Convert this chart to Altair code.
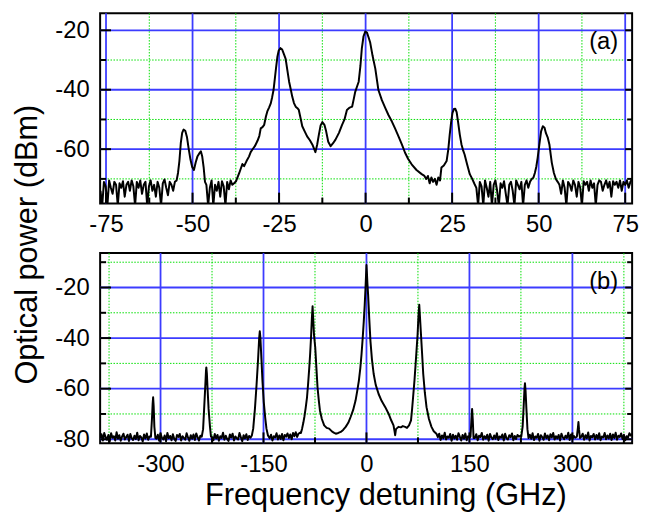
import altair as alt
import pandas as pd

FONT = "Liberation Sans"

# ---------------- Panel (a) data (GHz, dBm) ----------------
# noise-floor segments: (start frequency, step, values)
a_noise1_start, a_noise1_step = -76.6, 0.5
a_noise1 = [-74, -79, -71, -72.5, -79, -70.5, -73, -75, -71, -72, -79, -71.5, -73, -70.8, -76,
            -72, -71, -74, -70.5, -72.5, -79, -71, -73, -70.5, -75, -72, -71, -79, -72.5, -70.5,
            -74, -72, -76, -71, -73, -79, -71.5, -70.2, -73, -75.5, -71, -72, -74, -71, -70.5]
a_noise2_start, a_noise2_step = -46.0, 0.5
a_noise2 = [-72, -79, -73, -70.5, -79, -72, -74, -71, -76, -70.8, -72.5, -79, -71, -73.5, -70.5, -72, -71.5]
a_noise3_start, a_noise3_step = 17.5, 0.5
a_noise3 = [-70, -69, -71.5, -69.5, -71, -70, -72, -69.5, -70.5]
a_noise4_start, a_noise4_step = 32.0, 0.5
a_noise4 = [-73, -79, -71, -72.5, -79, -70.5, -73, -76, -71, -79, -72, -70.5, -74, -79, -71.5, -73,
            -70.8, -75, -79, -72, -71, -74, -79, -70.5, -72, -73.5, -71, -79, -72, -70.5, -73, -71, -70, -69.5]
a_noise5_start, a_noise5_step = 55.5, 0.5
a_noise5 = [-71, -72, -75, -70.5, -73, -79, -71, -72, -74, -70.5, -72, -76, -71, -73, -79, -70.8,
            -72, -71, -74, -70.5, -73, -71.5, -79, -72, -70.5, -71, -74, -72, -70.5, -73, -71, -76,
            -70.8, -72, -71, -73, -70.5, -74, -71, -72, -70.5, -73, -71, -70]

# spectral lines (frequency, power)
a_peak_m52_f = [-54.2, -53.8, -53.4, -53.0, -52.6, -52.1, -51.6, -51.1, -50.6, -50.1, -49.6, -49.1,
                -48.6, -48.1, -47.6, -47.2, -46.8, -46.4]
a_peak_m52_p = [-68, -64, -58, -54.5, -53.4, -53.8, -56, -60, -63.5, -66, -67, -64.5,
                -62.5, -61.5, -60.7, -62.5, -66, -71]
a_center_f = [-37.4, -36.5, -35.6, -35.1, -34.4, -33.7, -33.2, -32.7, -32.0, -31.2, -30.7, -30.3,
              -29.8, -29.3, -28.8, -28.4, -27.9, -27.4, -27.0, -26.6, -26.2, -25.9, -25.5, -25.1,
              -24.6, -24.1, -23.6, -23.1, -22.6, -22.1, -21.6, -21.2, -20.7, -20.2, -19.7, -19.3,
              -18.8, -18.3, -17.6, -16.9, -16.1, -15.4, -14.9, -14.5, -14.0, -13.5, -13.0, -12.5,
              -11.9, -11.4, -10.8, -10.1, -9.4, -8.7, -7.7, -6.8, -6.1, -5.4, -4.6, -3.9, -3.4,
              -3.0, -2.5, -2.0, -1.5, -1.1, -0.6, -0.1, 0.4, 0.9, 1.3, 2.0, 2.8, 3.7, 4.7, 5.7,
              6.6, 7.6, 8.5, 9.5, 10.5, 11.4, 12.3, 13.3, 14.7, 16.2, 17.0]
a_center_p = [-70.7, -68, -65, -65.7, -64, -62.5, -61, -60.1, -59, -57.1, -55.5, -53,
              -52.6, -51.8, -49, -47.3, -46, -44.6, -42.5, -40.1, -36, -32.9, -29, -26.8,
              -26, -26.5, -28, -29.6, -33.5, -37.3, -40, -42.3, -44.5, -45.7, -46.2, -46.8,
              -49.5, -52.3, -54, -55.7, -57, -58.4, -59.8, -61, -58.5, -55.1, -52, -50.9,
              -51.8, -54, -57.5, -59, -58, -56.8, -54.5, -51.8, -50, -46.8, -46, -45.7, -43,
              -40.7, -39, -37.3, -32, -26.2, -22, -20.4, -20.8, -22.5, -24, -28.5, -32.9, -40.1, -43.5, -46.2,
              -48.5, -50.7, -53, -55.7, -58.5, -61.2, -63.3, -65.1, -67, -68.4, -69]
a_peak_26_f = [21.9, 22.6, 23.4, 23.9, 24.3, 24.7, 25.1, 25.5, 25.9, 26.3, 26.7, 27.2, 27.7, 28.2,
               28.6, 29.3, 30.1, 30.8, 31.5]
a_peak_26_p = [-66.2, -65.5, -64, -60, -55.1, -51, -47.8, -46.5, -46.4, -47.5, -50.7, -55, -58.4, -60.5,
               -61.8, -65, -68.4, -70, -71.8]
a_peak_51_f = [48.9, 49.3, 49.7, 50.2, 50.7, 51.2, 51.7, 52.1, 52.6, 53.1, 53.5, 53.8, 54.4, 55.0]
a_peak_51_p = [-68, -66, -63, -58.4, -54, -52.3, -52.8, -54.6, -56, -58.4, -62, -64.6, -68, -70.1]

# ---------------- Panel (b) data (GHz, dBm) ----------------
b_noise_step = 2.0
b_noise1_start = -388
b_noise1 = [-79.5, -78, -80.5, -77.5, -79.2, -80.2, -78.3, -80.8, -77.6, -79.4, -78.8, -80.5, -77.2,
            -79.8, -78.4, -80.6, -78.9, -77.8, -80.1, -79.1, -78.2, -80.7, -77.9, -79.6, -80.3, -78.6,
            -79.9, -77.4, -80.4, -78.7, -79.3, -80.9, -78.1, -79.7, -77.7, -80.2, -78.9]
b_noise2_start = -306
b_noise2 = [-79.8, -78.2, -80.6, -77.8, -79.4, -80.1, -78.5, -80.8, -77.5, -79.6, -78.7, -80.4, -78.0,
            -79.9, -80.7, -78.3, -79.1, -77.9, -80.5, -78.8, -79.5, -80.2, -77.6, -79.3, -80.6, -78.4,
            -79.8, -78.1, -80.3, -77.7, -79.2, -80.5, -78.6]
b_noise3_start = -225
b_noise3 = [-79.1, -80.4, -77.9, -79.7, -78.3, -80.6, -78.8, -79.5, -77.4, -80.2, -78.6, -79.9, -80.7,
            -78.1, -79.3, -77.8, -80.5, -78.9, -79.6, -80.1, -77.5, -79.2, -80.8, -78.4, -79.7, -78.0,
            -80.3, -78.7, -79.4]
b_noise4_start = -141
b_noise4 = [-79.6, -78.2, -80.5, -78.8, -79.3, -77.6, -80.1, -78.5, -79.9, -77.9, -80.4, -78.3, -79.0,
            -77.7, -79.5, -78.1, -80.0, -77.5, -78.8, -77.2, -79.1, -77.8, -77.4]
b_noise5_start = 104
b_noise5 = [-79.2, -77.8, -80.3, -78.5, -79.6, -77.4, -80.1, -78.9, -79.4, -77.9, -80.6, -78.2, -79.7,
            -78.6, -80.2, -77.6, -79.0, -80.5, -78.3, -79.8, -77.7, -80.4, -78.8, -79.3]
b_noise6_start = 158
b_noise6 = [-79.5, -78.0, -80.4, -78.6, -79.1, -77.5, -80.2, -78.8, -79.7, -78.2, -80.6, -77.9, -79.3,
            -80.0, -78.5, -79.8, -77.6, -80.3, -78.9, -79.4, -78.1, -80.5, -77.8, -79.6, -80.1, -78.4,
            -79.2, -77.7, -80.4, -78.7, -79.9, -78.3, -79.0, -78.6]
b_noise7_start = 238
b_noise7 = [-78.2, -79.8, -77.6, -80.3, -78.9, -79.4, -77.9, -80.6, -78.4, -79.1, -80.2, -77.7, -79.6,
            -78.5, -80.4, -78.0, -79.3, -77.5, -80.1, -78.8, -79.7, -78.3, -80.5, -77.8, -79.2, -80.0,
            -78.6, -79.5, -77.4, -80.3, -78.1, -79.9, -78.7, -79.4]
b_noise8_start = 313
b_noise8 = [-79.0, -77.8, -80.2, -78.4, -79.6, -77.3, -80.5, -78.7, -79.2, -77.9, -80.1, -78.3, -79.8,
            -77.6, -80.4, -78.9, -79.3, -77.5, -80.0, -78.5, -79.7, -77.8, -80.3, -78.1, -79.5, -77.4,
            -80.2, -78.6, -79.1, -77.7, -79.9, -78.2, -80.4, -78.8, -79.4, -77.6, -78.5, -77.9]

b_peak_m310_f = [-314, -312.5, -311.5, -310.8, -310, -309, -307.5]
b_peak_m310_p = [-79, -72, -66, -63.4, -67, -75, -79.5]
b_peak_m233_f = [-240, -238, -236.5, -235, -233.8, -233.3, -232.5, -231.5, -230, -228, -226.5]
b_peak_m233_p = [-79, -76, -68, -60, -53, -51.6, -54, -60, -68, -75, -79]
b_peak_m155_f = [-167, -165, -162.5, -160.2, -157.9, -156.3, -155.4, -154.5, -153, -151.5, -149.6,
                 -147.5, -145.7, -143.5]
b_peak_m155_p = [-78.5, -75.8, -68, -58.8, -48.4, -40, -37.3, -40, -48.4, -57, -65.3, -71.5, -75.8, -78.5]
b_center_f = [-95.5, -93.8, -92, -90.5, -88.5, -86.6, -85, -83.3, -82, -80.8, -79.5, -78.5, -77.5, -76.5,
              -74.6, -73, -71.3, -69.5, -67.8, -65, -61.6, -58, -54.4, -50, -47, -44.7, -41, -37.5,
              -34, -30.3, -26.5, -23.1, -19.5, -15.9, -13.5, -11.1, -9, -7.2, -5.5, -3.9, -2.6, -1.4,
              -0.6, 0, 0.6, 1.4, 2.4, 4, 5.8, 8, 10.5, 13.5, 17.7, 22, 27.4, 32.2, 36, 39.4, 41,
              41.8, 43, 46.6, 50, 53, 56.3, 59, 62, 64.9, 66.5, 68.3, 70, 71.6, 73, 74.5, 75.7, 76.9,
              77.8, 79.4, 81, 82.7, 85, 87.5, 91, 94.7, 98, 101.9]
b_center_p = [-77.5, -75.8, -73.5, -71.2, -67.5, -63.4, -58, -51.6, -46, -39.9, -32, -27.4, -33, -38.5,
              -43.8, -51.5, -59.5, -64.5, -68.6, -72, -74.5, -75.5, -75.8, -77, -77.5, -77.8, -77.5, -77.1,
              -76.3, -75.1, -73.5, -71.2, -68.5, -64.7, -61, -56.9, -52, -46.4, -40, -33.3, -27, -20.2,
              -15, -11.1, -14, -18.5, -22.9, -32, -41.2, -48.5, -54.2, -58.5, -62.1, -64.8, -67.3, -69.9, -72.5, -74.5, -77,
              -78.4, -76, -75.1, -75.3, -74.8, -75.1, -75.5, -74.5, -72.5, -68, -62.1, -56.5, -50.3, -44.5, -38.5, -31.5, -26.8,
              -31, -38.5, -46, -54.2, -61.5, -67.3, -72, -75.1, -76.8, -77.8]
b_peak_154_f = [151.5, 152.8, 153.9, 154.8, 156]
b_peak_154_p = [-79, -73, -68, -72, -79.5]
b_peak_231_f = [225.5, 227.5, 229, 230.2, 230.9, 231.8, 233, 234.5, 236]
b_peak_231_p = [-79, -75, -67, -60, -57.9, -61, -68, -76, -79.5]
b_peak_309_f = [306.5, 308, 308.8, 309.6, 311]
b_peak_309_p = [-79, -75.5, -73.2, -76, -79.5]

# ---------------- axes / grid definitions ----------------
a_xdomain = [-76.7, 77.0]
a_ydomain = [-78.3, -14.3]
a_xmajor = [-75, -50, -25, 0, 25, 50, 75]
a_xminor = [-62.5, -37.5, -12.5, 12.5, 37.5, 62.5]
a_ymajor = [-20, -40, -60]
a_yminor = [-30, -50, -70]

b_xdomain = [-388, 387]
b_ydomain = [-81.6, -6.4]
b_xmajor = [-300, -150, 0, 150, 300]
b_xminor = [-375, -225, -75, 75, 225, 375]
b_ymajor = [-20, -40, -60, -80]
b_yminor = [-10, -30, -50, -70]

W, H = 537, 192
BLUE = "#3c3cff"
GREEN = "#00e000"
HYPHEN_LABEL = "replace(datum.label, '\u2212', '-')"


def noise(start, step, vals):
    return [(start + step * i, v) for i, v in enumerate(vals)]


def pairs(fs, ps):
    return list(zip(fs, ps))


a_points = (noise(a_noise1_start, a_noise1_step, a_noise1) + pairs(a_peak_m52_f, a_peak_m52_p)
            + noise(a_noise2_start, a_noise2_step, a_noise2) + pairs(a_center_f, a_center_p)
            + noise(a_noise3_start, a_noise3_step, a_noise3) + pairs(a_peak_26_f, a_peak_26_p)
            + noise(a_noise4_start, a_noise4_step, a_noise4) + pairs(a_peak_51_f, a_peak_51_p)
            + noise(a_noise5_start, a_noise5_step, a_noise5))
b_points = (noise(b_noise1_start, b_noise_step, b_noise1) + pairs(b_peak_m310_f, b_peak_m310_p)
            + noise(b_noise2_start, b_noise_step, b_noise2) + pairs(b_peak_m233_f, b_peak_m233_p)
            + noise(b_noise3_start, b_noise_step, b_noise3) + pairs(b_peak_m155_f, b_peak_m155_p)
            + noise(b_noise4_start, b_noise_step, b_noise4) + pairs(b_center_f, b_center_p)
            + noise(b_noise5_start, b_noise_step, b_noise5) + pairs(b_peak_154_f, b_peak_154_p)
            + noise(b_noise6_start, b_noise_step, b_noise6) + pairs(b_peak_231_f, b_peak_231_p)
            + noise(b_noise7_start, b_noise_step, b_noise7) + pairs(b_peak_309_f, b_peak_309_p)
            + noise(b_noise8_start, b_noise_step, b_noise8))

df_a = pd.DataFrame(sorted(a_points), columns=["f", "p"])
df_b = pd.DataFrame(sorted(b_points), columns=["f", "p"])


def panel(df, xdom, ydom, xmaj, xmin, ymaj, ymin, label, ytitle, xtitle):
    xs = alt.Scale(domain=xdom, nice=False, zero=False)
    ys = alt.Scale(domain=ydom, nice=False, zero=False)
    yaxis_kw = dict(values=ymaj, grid=False, ticks=False, domain=False, labelFontSize=24,
                    labelFont=FONT, labelColor="black", labelPadding=11, format="d",
                    labelExpr=HYPHEN_LABEL)
    if ytitle:
        yaxis_kw.update(title=ytitle, titleFontSize=31, titleFont=FONT, titleFontWeight="normal",
                        titleColor="black", titleY=233, titlePadding=12)
    else:
        yaxis_kw.update(title=None)
    xaxis_kw = dict(values=xmaj, grid=False, ticks=False, domain=False, labelFontSize=24,
                    labelFont=FONT, labelColor="black", labelPadding=9, format="d",
                    labelOverlap=False, labelFlush=False, labelExpr=HYPHEN_LABEL)
    if xtitle:
        xaxis_kw.update(title=xtitle, titleFontSize=31, titleFont=FONT, titleFontWeight="normal",
                        titleColor="black", titlePadding=5, titleX=288)
    else:
        xaxis_kw.update(title=None)
    X = alt.X("f:Q", scale=xs, axis=alt.Axis(**xaxis_kw))
    Y = alt.Y("p:Q", scale=ys, axis=alt.Axis(**yaxis_kw))
    Xn = alt.X("f:Q", scale=xs)
    Yn = alt.Y("p:Q", scale=ys)

    gx_min = alt.Chart(pd.DataFrame({"f": xmin})).mark_rule(
        color=GREEN, strokeWidth=1, strokeDash=[1.5, 1.5]).encode(x=Xn)
    gy_min = alt.Chart(pd.DataFrame({"p": ymin})).mark_rule(
        color=GREEN, strokeWidth=1, strokeDash=[1.5, 1.5]).encode(y=Yn)
    gx_maj = alt.Chart(pd.DataFrame({"f": xmaj})).mark_rule(
        color=BLUE, strokeWidth=1.8).encode(x=Xn)
    gy_maj = alt.Chart(pd.DataFrame({"p": ymaj})).mark_rule(
        color=BLUE, strokeWidth=1.8).encode(y=Yn)
    # inward tick marks (left, right, bottom)
    t_left_maj = alt.Chart(pd.DataFrame({"p": ymaj})).mark_rule(color="black", strokeWidth=2).encode(
        y=Yn, x=alt.value(0), x2=alt.value(11))
    t_left_min = alt.Chart(pd.DataFrame({"p": ymin})).mark_rule(color="black", strokeWidth=2).encode(
        y=Yn, x=alt.value(0), x2=alt.value(6))
    t_right_maj = alt.Chart(pd.DataFrame({"p": ymaj})).mark_rule(color="black", strokeWidth=2).encode(
        y=Yn, x=alt.value(W), x2=alt.value(W - 7))
    t_right_min = alt.Chart(pd.DataFrame({"p": ymin})).mark_rule(color="black", strokeWidth=2).encode(
        y=Yn, x=alt.value(W), x2=alt.value(W - 5))
    t_bot_maj = alt.Chart(pd.DataFrame({"f": xmaj})).mark_rule(color="black", strokeWidth=2).encode(
        x=Xn, y=alt.value(H), y2=alt.value(H - 11))
    t_bot_min = alt.Chart(pd.DataFrame({"f": xmin})).mark_rule(color="black", strokeWidth=2).encode(
        x=Xn, y=alt.value(H), y2=alt.value(H - 6))

    axes_holder = alt.Chart(df).mark_line(opacity=0, clip=True).encode(x=X, y=Y)
    line = alt.Chart(df).mark_line(color="black", strokeWidth=2, clip=True,
                                   strokeJoin="round").encode(x=Xn, y=Yn, order="f:Q")
    lab = alt.Chart(pd.DataFrame({"t": [label]})).mark_text(
        align="right", baseline="middle", fontSize=24, font=FONT, color="black").encode(
        text="t:N", x=alt.value(W - 14), y=alt.value(29))

    return alt.layer(axes_holder, gx_min, gy_min, gx_maj, gy_maj, t_left_maj, t_left_min, t_right_maj,
                     t_right_min, t_bot_maj, t_bot_min, line, lab).properties(width=W, height=H)


pa = panel(df_a, a_xdomain, a_ydomain, a_xmajor, a_xminor, a_ymajor, a_yminor, "(a)",
           "Optical power (dBm)", None)
pb = panel(df_b, b_xdomain, b_ydomain, b_xmajor, b_xminor, b_ymajor, b_yminor, "(b)",
           None, "Frequency detuning (GHz)")

chart = alt.vconcat(pa, pb, spacing=50, bounds="flush").properties(
    padding={"left": 2, "top": 1, "right": 5, "bottom": 5}
).configure_view(stroke="black", strokeWidth=2)

chart.save("out.html", embed_options={"renderer": "svg", "actions": False})
